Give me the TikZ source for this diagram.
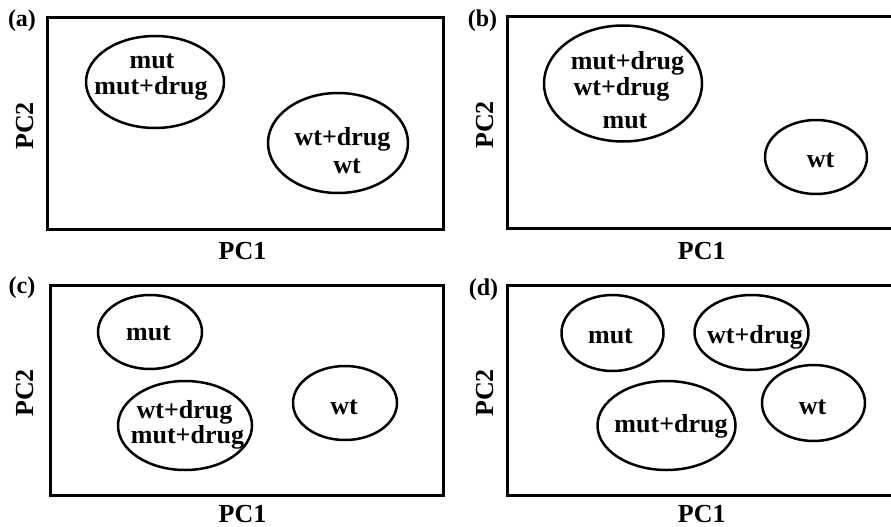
\documentclass[tikz,border=0pt]{standalone}
\usepackage{fontspec}
\setmainfont{Liberation Serif}
\usetikzlibrary{shapes.geometric}
\tikzset{
  panelbox/.style={draw=black, line width=3pt},
  cluster/.style={draw=black, line width=2.5pt, ellipse, inner sep=0pt},
  lbl/.style={anchor=base, inner sep=0pt, font=\fontsize{26}{26}\selectfont\bfseries},
  axisname/.style={lbl},
  tag/.style={anchor=base, inner sep=0pt, font=\fontsize{24}{24}\selectfont\bfseries},
}
\begin{document}
\begin{tikzpicture}[x=1pt, y=-1pt]
\useasboundingbox (0,0) rectangle (891,527);
\clip (0,0) rectangle (891,527);
\fill[white] (0,0) rectangle (891,527);

% ---- panel (a) ----
\draw[panelbox] (47.7,17.3) rectangle (443,229);
\node[tag] (tagA) at (22,27) {(a)};
\node[axisname] (pc1A) at (242.5,259) {PC1};
\node[axisname, rotate=90] (pc2A) at (33,126) {PC2};
\node[cluster, minimum width=138pt, minimum height=92pt] (eA1) at (155,82) {};
\node[cluster, minimum width=140pt, minimum height=100pt] (eA2) at (338,143) {};
\node[lbl] (tA1) at (152,69) {mut};
\node[lbl] (tA2) at (151,94) {mut+drug};
\node[lbl] (tA3) at (342.5,145) {wt+drug};
\node[lbl] (tA4) at (347,173) {wt};

% ---- panel (b) ----
\draw[panelbox] (507,16.7) rectangle (905,228);
\node[tag] (tagB) at (482.5,27) {(b)};
\node[axisname] (pc1B) at (701.7,259) {PC1};
\node[axisname, rotate=90] (pc2B) at (493,125) {PC2};
\node[cluster, minimum width=158pt, minimum height=116pt] (eB1) at (623,83.5) {};
\node[cluster, minimum width=102pt, minimum height=74pt] (eB2) at (816,157) {};
\node[lbl] (tB1) at (627.5,70) {mut+drug};
\node[lbl] (tB2) at (621.5,95) {wt+drug};
\node[lbl] (tB3) at (625,128) {mut};
\node[lbl] (tB4) at (820.5,167) {wt};

% ---- panel (c) ----
\draw[panelbox] (50,285) rectangle (443,495);
\node[tag] (tagC) at (22,293) {(c)};
\node[axisname] (pc1C) at (242.5,522) {PC1};
\node[axisname, rotate=90] (pc2C) at (33,393) {PC2};
\node[cluster, minimum width=104pt, minimum height=74pt] (eC1) at (150,332) {};
\node[cluster, minimum width=134pt, minimum height=89pt] (eC2) at (185,425.5) {};
\node[cluster, minimum width=104pt, minimum height=74pt] (eC3) at (345,403) {};
\node[lbl] (tC1) at (148.5,340) {mut};
\node[lbl] (tC2) at (184.5,418) {wt+drug};
\node[lbl] (tC3) at (187.5,443) {mut+drug};
\node[lbl] (tC4) at (344,414.7) {wt};

% ---- panel (d) ----
\draw[panelbox] (507,285.7) rectangle (905,495);
\node[tag] (tagD) at (483.5,295) {(d)};
\node[axisname] (pc1D) at (701.7,522) {PC1};
\node[axisname, rotate=90] (pc2D) at (493,393) {PC2};
\node[cluster, minimum width=102pt, minimum height=76pt] (eD1) at (612.5,333) {};
\node[cluster, minimum width=114pt, minimum height=75pt] (eD2) at (751.5,332.5) {};
\node[cluster, minimum width=138pt, minimum height=89pt] (eD3) at (666.5,425.5) {};
\node[cluster, minimum width=103pt, minimum height=76pt] (eD4) at (813.5,403) {};
\node[lbl] (tD1) at (610.5,343) {mut};
\node[lbl] (tD2) at (755,343) {wt+drug};
\node[lbl] (tD3) at (671,432) {mut+drug};
\node[lbl] (tD4) at (812.5,414) {wt};
\end{tikzpicture}
\end{document}
